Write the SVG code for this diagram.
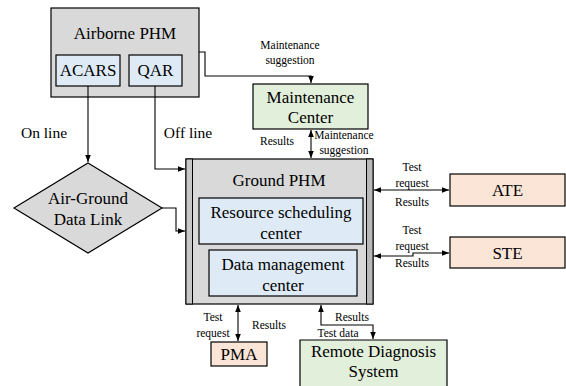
<svg xmlns="http://www.w3.org/2000/svg" width="566" height="386" viewBox="0 0 566 386">
<style>
.t{font-family:"Liberation Serif",serif;fill:#000}
.big{font-family:"Liberation Serif",serif;font-size:17px}
.mid{font-family:"Liberation Serif",serif;font-size:15.5px}
.sm{font-family:"Liberation Serif",serif;font-size:11.5px}
.gray{fill:#d9d9d9;stroke:#000;stroke-width:1.2}
.blue{fill:#deebf7;stroke:#000;stroke-width:1.2}
.green{fill:#e2efda;stroke:#000;stroke-width:1.2}
.peach{fill:#fbe5d6;stroke:#000;stroke-width:1.2}
.c{fill:none;stroke:#000;stroke-width:1.1}
</style>
<defs>
<marker id="ah" viewBox="0 0 10 10" refX="10" refY="5" markerWidth="7" markerHeight="7" orient="auto-start-reverse" markerUnits="userSpaceOnUse">
<path d="M0,1 L10,5 L0,9 z" fill="#000"/>
</marker>
</defs>
<g id="airborne">
<rect class="gray" x="51" y="8" width="148" height="89"/>
<text class="big" text-anchor="middle" x="125" y="39">Airborne PHM</text>
</g>
<g id="acars">
<rect class="blue" x="56" y="55" width="64" height="31"/>
<text class="big" text-anchor="middle" x="88" y="76">ACARS</text>
</g>
<g id="qar">
<rect class="blue" x="129" y="55" width="53" height="31"/>
<text class="big" text-anchor="middle" x="155.5" y="76">QAR</text>
</g>
<g id="maintenance">
<rect class="green" x="253" y="84" width="115" height="45"/>
<text class="big" text-anchor="middle" x="310.5" y="103">Maintenance</text>
<text class="big" text-anchor="middle" x="310.5" y="123">Center</text>
</g>
<g id="airground">
<polygon class="gray" points="88,163 162,208 88,253 14,208"/>
<text class="big" text-anchor="middle" x="88" y="204">Air-Ground</text>
<text class="big" text-anchor="middle" x="88" y="225">Data Link</text>
</g>
<g id="ground">
<rect class="gray" x="186" y="159" width="187" height="145"/>
<rect x="186" y="159" width="6.5" height="145" fill="#c8c8c8" stroke="#000" stroke-width="1"/>
<rect x="366.5" y="159" width="6.5" height="145" fill="#b8b8b8" stroke="#000" stroke-width="1"/>
<text class="big" text-anchor="middle" x="279" y="186">Ground PHM</text>
</g>
<g id="resource">
<rect class="blue" x="199" y="198" width="164" height="46"/>
<text class="big" text-anchor="middle" x="281" y="218">Resource scheduling</text>
<text class="big" text-anchor="middle" x="281" y="239">center</text>
</g>
<g id="datamgmt">
<rect class="blue" x="209" y="250" width="148" height="46"/>
<text class="big" text-anchor="middle" x="283" y="270">Data management</text>
<text class="big" text-anchor="middle" x="283" y="291">center</text>
</g>
<g id="ate">
<rect class="peach" x="450" y="174" width="115" height="32"/>
<text class="big" text-anchor="middle" x="507.5" y="196">ATE</text>
</g>
<g id="ste">
<rect class="peach" x="450" y="237" width="115" height="31"/>
<text class="big" text-anchor="middle" x="507.5" y="259">STE</text>
</g>
<g id="pma">
<rect class="peach" x="211" y="342" width="56" height="24"/>
<text class="big" text-anchor="middle" x="239" y="360">PMA</text>
</g>
<g id="remote">
<path class="green" d="M300,387 L300,340 L447,340 L447,387"/>
<text class="big" text-anchor="middle" x="373.5" y="357">Remote Diagnosis</text>
<text class="big" text-anchor="middle" x="373.5" y="377">System</text>
</g>
<g id="connectors">
<path class="c" d="M199,52 H205 V76 H311 V83" marker-end="url(#ah)"/>
<path class="c" d="M311,130 V158" marker-start="url(#ah)" marker-end="url(#ah)"/>
<path class="c" d="M88,86 V162" marker-end="url(#ah)"/>
<path class="c" d="M155,86 V169 H185" marker-end="url(#ah)"/>
<path class="c" d="M162,208 H176 V231 H185" marker-end="url(#ah)"/>
<path class="c" d="M374,190 H449" marker-start="url(#ah)" marker-end="url(#ah)"/>
<path class="c" d="M374,256 H413 V253 H449" marker-start="url(#ah)" marker-end="url(#ah)"/>
<path class="c" d="M238,305 V341" marker-start="url(#ah)" marker-end="url(#ah)"/>
<path class="c" d="M321,305 V325 H373 V339" marker-start="url(#ah)" marker-end="url(#ah)"/>
</g>
<g id="labels">
<text class="sm" text-anchor="middle" x="290" y="49">Maintenance</text>
<text class="sm" text-anchor="middle" x="290" y="64">suggestion</text>
<text class="sm" text-anchor="middle" x="277" y="145">Results</text>
<text class="sm" text-anchor="middle" x="344" y="139">Maintenance</text>
<text class="sm" text-anchor="middle" x="344" y="154">suggestion</text>
<text class="mid" text-anchor="middle" x="44" y="138">On line</text>
<text class="mid" text-anchor="middle" x="188" y="138">Off line</text>
<text class="sm" text-anchor="middle" x="412" y="171">Test</text>
<text class="sm" text-anchor="middle" x="412" y="187">request</text>
<text class="sm" text-anchor="middle" x="412" y="206">Results</text>
<text class="sm" text-anchor="middle" x="412" y="234">Test</text>
<text class="sm" text-anchor="middle" x="412" y="250">request</text>
<text class="sm" text-anchor="middle" x="412" y="267">Results</text>
<text class="sm" text-anchor="middle" x="213" y="321">Test</text>
<text class="sm" text-anchor="middle" x="213" y="337">request</text>
<text class="sm" text-anchor="middle" x="269" y="329">Results</text>
<text class="sm" text-anchor="middle" x="352" y="321">Results</text>
<text class="sm" text-anchor="middle" x="338" y="337">Test data</text>
</g>
</svg>
